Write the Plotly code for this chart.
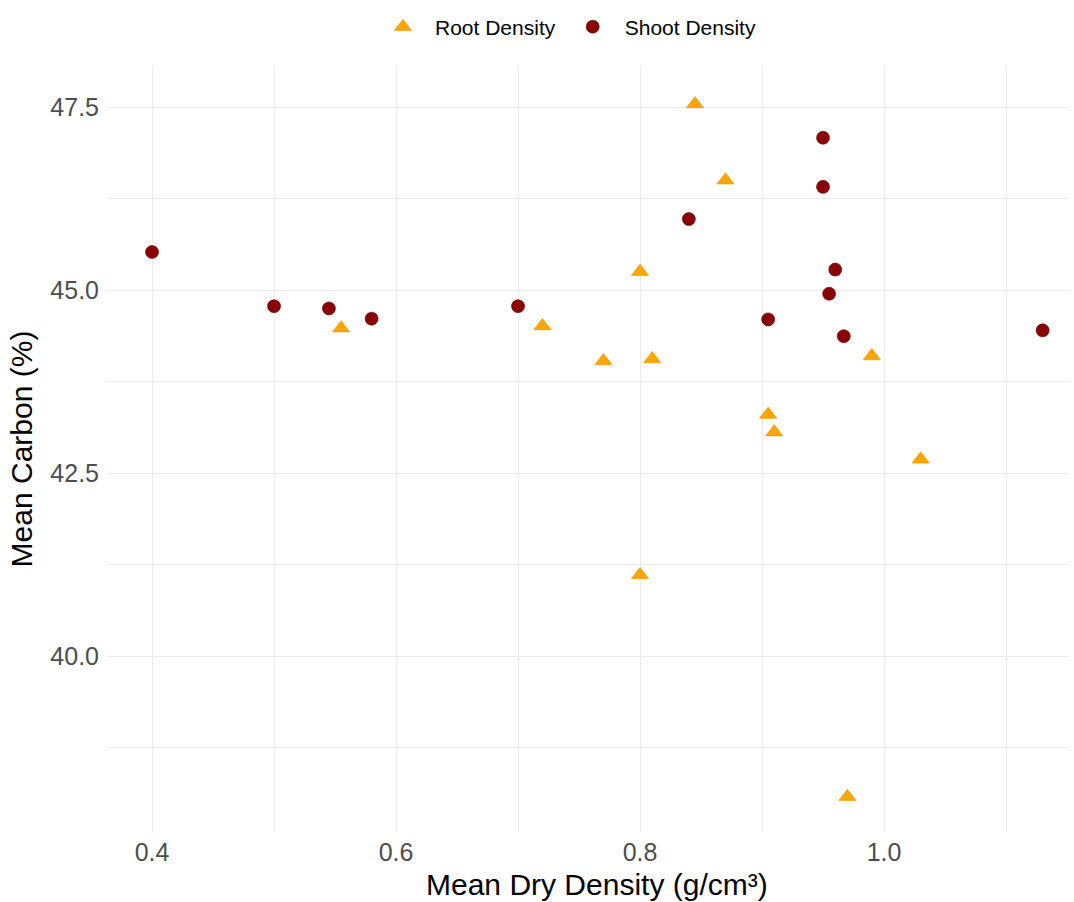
import plotly.graph_objects as go

# Root density samples
root_density = [0.845, 0.870, 0.800, 0.810, 0.555, 0.720, 0.770, 0.990, 0.905, 0.910, 1.030, 0.800, 0.970]
root_carbon = [47.54, 46.50, 45.25, 44.06, 44.48, 44.51, 44.03, 44.10, 43.30, 43.06, 42.69, 41.11, 38.08]

# Shoot density samples
shoot_density = [0.400, 0.500, 0.545, 0.580, 0.700, 0.840, 0.950, 0.950, 0.960, 0.955, 0.905, 0.967, 1.130]
shoot_carbon = [45.52, 44.78, 44.75, 44.61, 44.78, 45.97, 47.08, 46.41, 45.28, 44.95, 44.60, 44.37, 44.45]

x_ticks = [0.4, 0.6, 0.8, 1.0]
y_ticks = [40.0, 42.5, 45.0, 47.5]

FONT = "Liberation Sans, Arial, sans-serif"
GRID = "#EBEBEB"

fig = go.Figure()
fig.add_trace(go.Scatter(
    x=root_density, y=root_carbon, mode="markers", name="Root Density",
    marker=dict(symbol="triangle-up", size=15, color="#FFA500",
                line=dict(color="#E89600", width=0.6)),
))
fig.add_trace(go.Scatter(
    x=shoot_density, y=shoot_carbon, mode="markers", name="Shoot Density",
    marker=dict(symbol="circle", size=13, color="#8B0000",
                line=dict(color="#5C0000", width=0.6)),
))

fig.update_layout(
    width=1074, height=902,
    margin=dict(l=107, r=5, t=66, b=70),
    paper_bgcolor="white", plot_bgcolor="white",
    font=dict(family=FONT, color="black"),
    legend=dict(orientation="h", x=0.527, xanchor="center", xref="container",
                y=1 - 27 / 902, yanchor="middle", yref="container",
                font=dict(size=21, color="black"), itemsizing="trace",
                itemwidth=54),
    showlegend=True,
    annotations=[dict(
        text="Mean Dry Density (g/cm³)", xref="paper", yref="paper",
        x=(597 - 107) / (1074 - 107 - 5), y=0, yshift=-52,
        xanchor="center", yanchor="middle", showarrow=False,
        font=dict(size=30, color="black"),
    )],
)

fig.update_xaxes(
    range=[0.3631, 1.1516], tickvals=x_ticks, tickformat=".1f",
    showgrid=True, gridcolor=GRID, gridwidth=1.1, zeroline=False,
    showline=False, ticks="", ticklabelstandoff=3,
    tickfont=dict(size=25, color="#4D4D4D"),
    minor=dict(dtick=0.1, tick0=0.4, showgrid=True, gridcolor=GRID, gridwidth=0.6),
)
fig.update_yaxes(
    range=[37.60, 48.06], tickvals=y_ticks, tickformat=".1f",
    showgrid=True, gridcolor=GRID, gridwidth=1.1, zeroline=False,
    showline=False, ticks="", ticklabelstandoff=7,
    tickfont=dict(size=25, color="#4D4D4D"),
    minor=dict(dtick=1.25, tick0=40, showgrid=True, gridcolor=GRID, gridwidth=0.6),
    title=dict(text="Mean Carbon (%)", font=dict(size=30, color="black"), standoff=8),
)

fig.write_html("out.html")
